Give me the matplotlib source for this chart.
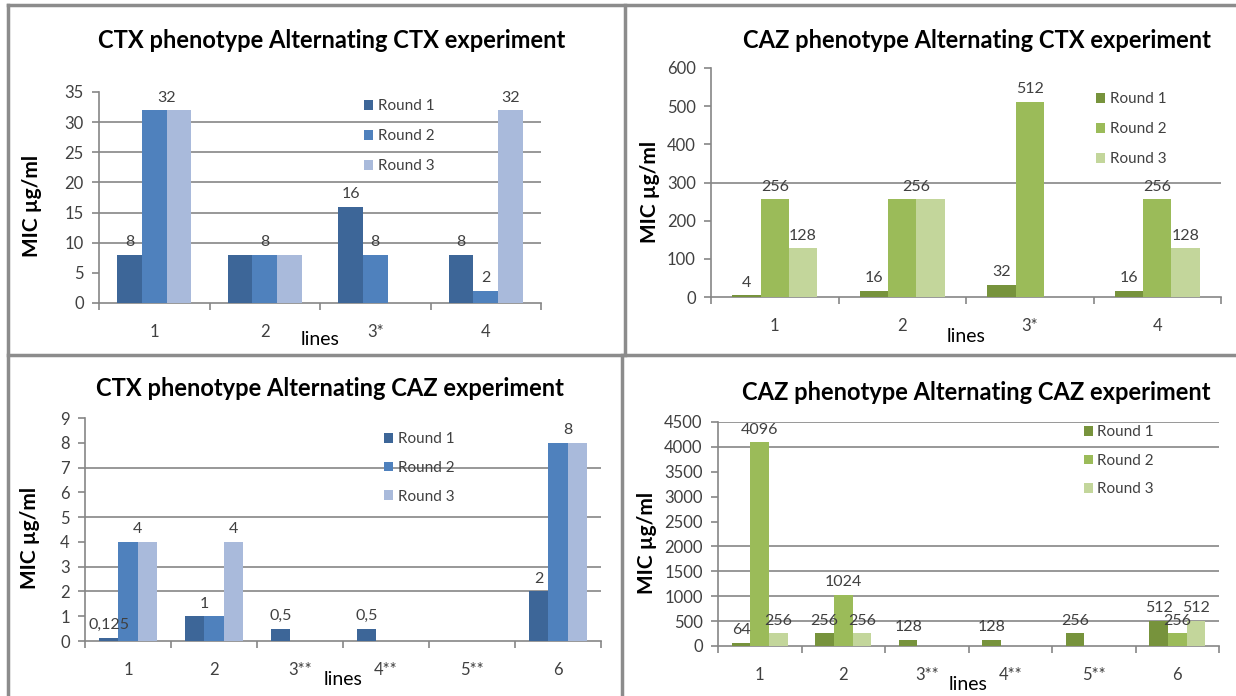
import numpy as np
import matplotlib
matplotlib.use('agg')
import matplotlib.pyplot as plt
from matplotlib.lines import Line2D

plt.rcParams['font.family'] = ['Lato', 'DejaVu Sans']

nan = np.nan
rounds = ['Round 1', 'Round 2', 'Round 3']

# CTX phenotype, alternating CTX experiment
ctx_ctx_lines = ['1', '2', '3*', '4']
ctx_ctx_r1 = [8, 8, 16, 8]
ctx_ctx_r2 = [32, 8, 8, 2]
ctx_ctx_r3 = [32, 8, nan, 32]

# CAZ phenotype, alternating CTX experiment
caz_ctx_lines = ['1', '2', '3*', '4']
caz_ctx_r1 = [4, 16, 32, 16]
caz_ctx_r2 = [256, 256, 512, 256]
caz_ctx_r3 = [128, 256, nan, 128]

# CTX phenotype, alternating CAZ experiment
ctx_caz_lines = ['1', '2', '3**', '4**', '5**', '6']
ctx_caz_r1 = [0.125, 1, 0.5, 0.5, nan, 2]
ctx_caz_r2 = [4, 1, nan, nan, nan, 8]
ctx_caz_r3 = [4, 4, nan, nan, nan, 8]

# CAZ phenotype, alternating CAZ experiment
caz_caz_lines = ['1', '2', '3**', '4**', '5**', '6']
caz_caz_r1 = [64, 256, 128, 128, 256, 512]
caz_caz_r2 = [4096, 1024, nan, nan, nan, 256]
caz_caz_r3 = [256, 256, nan, nan, nan, 512]

blues = ['#3d6698', '#4f81bd', '#a9badb']
greens = ['#77933c', '#9bbb59', '#c3d69b']

W, H = 1236, 696
fig = plt.figure(figsize=(W / 100, H / 100), dpi=100)

GRAY = '#868686'
TXT = '#404040'


def fmt(v):
    if float(v).is_integer():
        return str(int(v))
    return ('%g' % v).replace('.', ',')


def px_rect(x0, y0, x1, y1):
    return [x0 / W, 1 - y1 / H, (x1 - x0) / W, (y1 - y0) / H]


def panel(box, title, title_xy, cats, series, colors, ymax, ystep, grids,
          shown, ylab_x, leg_xy, leg_space):
    ax = fig.add_axes(px_rect(*box))
    n = len(cats)
    x = np.arange(n)
    bw = (1 / 1.5) / 3
    for i, (vals, c) in enumerate(zip(series, colors)):
        ax.bar(x + (i - 1) * bw, vals, bw, color=c, label=rounds[i],
               edgecolor='none', zorder=3)
    # data labels; a tuple of rounds shares one label between equal bars
    for cat, idx in shown:
        xs = [x[cat] + (i - 1) * bw for i in idx]
        v = series[idx[0]][cat]
        ax.annotate(fmt(v), (np.mean(xs), v), xytext=(0, 4),
                    textcoords='offset points', ha='center', va='bottom',
                    fontsize=11.5, color=TXT, zorder=4)
    for g in grids:
        ax.axhline(g, color=GRAY, lw=1.2, zorder=1)
    ax.set_xlim(-0.5, n - 0.5)
    ax.set_ylim(0, ymax)
    ax.set_yticks(np.arange(0, ymax + ystep / 2, ystep))
    ax.set_xticks(x)
    ax.set_xticklabels(cats)
    ax.set_xticks(np.arange(-0.5, n, 1), minor=True)
    ax.tick_params(axis='x', which='major', length=0, pad=15,
                   labelsize=12, labelcolor=TXT)
    ax.tick_params(axis='x', which='minor', length=5, color=GRAY, width=1.2)
    ax.tick_params(axis='y', length=5, color=GRAY, width=1.2, pad=6,
                   labelsize=12, labelcolor=TXT)
    for s in ['top', 'right']:
        ax.spines[s].set_visible(False)
    for s in ['left', 'bottom']:
        ax.spines[s].set_color(GRAY)
        ax.spines[s].set_linewidth(1.2)
    ax.set_ylabel('MIC µg/ml', fontsize=15, fontweight='bold', color='black')
    ax.yaxis.set_label_coords(ylab_x, 0.46)
    ax.set_xlabel('lines', fontsize=14, color='black')
    ax.xaxis.set_label_coords(0.5, -0.135)
    fig.text(title_xy[0] / W, 1 - title_xy[1] / H, title, ha='center',
             va='center', fontsize=17, fontweight='bold', color='black')
    ax.legend(loc='upper left', bbox_to_anchor=leg_xy, frameon=False,
              handlelength=0.6, handleheight=0.6, handletextpad=0.3,
              labelspacing=leg_space, fontsize=11, labelcolor=TXT,
              borderpad=0, borderaxespad=0)
    return ax


panel((99, 92, 541, 303), 'CTX phenotype Alternating CTX experiment', (332, 40),
      ctx_ctx_lines, [ctx_ctx_r1, ctx_ctx_r2, ctx_ctx_r3], blues, 35, 5,
      [10, 15, 20, 25, 30],
      [(0, (0,)), (0, (1, 2)), (1, (1,)), (2, (0,)), (2, (1,)),
       (3, (0,)), (3, (1,)), (3, (2,))],
      -0.13, (0.6, 0.965), 1.05)

panel((711, 68, 1221, 297), 'CAZ phenotype Alternating CTX experiment', (977, 40),
      caz_ctx_lines, [caz_ctx_r1, caz_ctx_r2, caz_ctx_r3], greens, 600, 100,
      [300],
      [(0, (0,)), (0, (1,)), (0, (2,)), (1, (0,)), (1, (1, 2)), (2, (0,)),
       (2, (1,)), (3, (0,)), (3, (1,)), (3, (2,))],
      -0.1, (0.755, 0.895), 1.05)

panel((85, 418, 601, 641), 'CTX phenotype Alternating CAZ experiment', (330, 389),
      ctx_caz_lines, [ctx_caz_r1, ctx_caz_r2, ctx_caz_r3], blues, 9, 1,
      [2, 3, 5, 7],
      [(0, (0,)), (0, (1, 2)), (1, (0, 1)), (1, (2,)), (2, (0,)),
       (3, (0,)), (5, (0,)), (5, (1, 2))],
      -0.087, (0.58, 0.935), 0.95)

panel((718, 422, 1219, 646), 'CAZ phenotype Alternating CAZ experiment', (976, 392),
      caz_caz_lines, [caz_caz_r1, caz_caz_r2, caz_caz_r3], greens, 4500, 500,
      [500, 1000, 1500, 2000, 4000, 4500],
      [(c, (r,)) for r, s in enumerate([caz_caz_r1, caz_caz_r2, caz_caz_r3])
       for c in range(6) if not np.isnan(s[c])],
      -0.122, (0.73, 0.985), 0.95)

# panel frames
frame = dict(color='#8c8c8c', lw=2.5, transform=fig.transFigure)
for xs, ys in [((8, 8), (5, 696)), ((8, 1236), (5, 5)), ((8, 1236), (355, 355)),
               ((625, 625), (5, 355)), ((622, 622), (355, 696))]:
    fig.add_artist(Line2D([v / W for v in xs], [1 - v / H for v in ys], **frame))

fig.savefig('out.png', dpi=100)
